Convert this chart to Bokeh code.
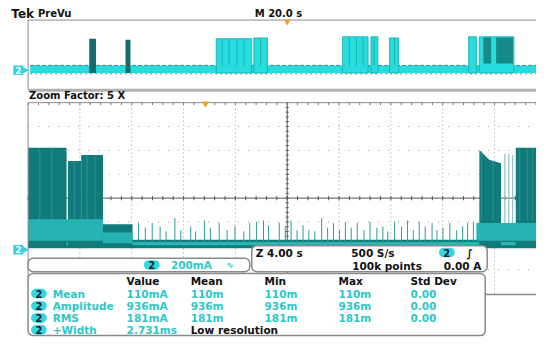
from bokeh.plotting import figure
from bokeh.models import Range1d
from bokeh.embed import file_html
from bokeh.resources import INLINE
from bokeh.core.properties import value

# ---------------- data ----------------
# PreVu overview record (20 s/div), amps
ov_base_t = [-99.2, 99.2]
ov_base_top = 0.20
ov_dark_t0 = [-76.4, -62.4]
ov_dark_t1 = [-73.8, -60.5]
ov_dark_top = [0.90, 0.875]
ov_burst_t0 = [-27.4, -12.9, 21.3, 32.3, 39.5, 70.0, 74.1]
ov_burst_t1 = [-13.7, -7.6, 31.2, 35.0, 43.0, 73.0, 87.5]
ov_burst_top = [0.90, 0.92, 0.95, 0.95, 0.92, 0.95, 0.95]
ov_streak_t = [-25.1, -22.4, -19.4, -16.7, -10.3, 24.0, 26.7, 29.3, 33.5, 41.4]
ov_streak_top = [0.88, 0.90, 0.89, 0.88, 0.90, 0.93, 0.92, 0.94, 0.93, 0.91]
ov_inner_t0 = [75.7, 80.6]
ov_inner_t1 = [78.7, 87.1]
ov_inner_top = [0.93, 0.93]

# Zoomed trace (4 s/div, 200 mA/div), amps
burst_t0 = [-20.0, -16.92, -15.9, 17.64]
burst_t1 = [-17.03, -15.9, -14.22, 19.32]
burst_top = [0.83, 0.72, 0.77, 0.83]
low_t0 = [-14.22, 19.32]
low_t1 = [-11.94, 19.85]
low_top = [0.19, 0.20]
slope_t = [14.83, 15.13, 15.59, 16.5]
slope_top = [0.81, 0.78, 0.73, 0.70]
gap_t = [16.8, 17.1, 17.4]
gap_top = [0.78, 0.78, 0.77]
streak_t = [-19.09, -18.17, -16.43, -15.44, -14.83, 14.98, 15.89, 17.95, 18.56, 18.94]
streak_top = [0.82, 0.83, 0.71, 0.76, 0.76, 0.80, 0.72, 0.83, 0.82, 0.83]
env_t0 = [-20.0, -14.22, 14.6]
env_t1 = [-14.22, -11.94, 19.85]
env_lo = [0.05, 0.03, 0.05]
env_hi = [0.23, 0.12, 0.20]
base_t = [-20.0, 19.85]
spike_t = [-11.48, -10.95, -10.42, -9.81, -9.35, -8.67, -8.21, -7.45, -7.07, -6.39,
           -5.93, -5.25, -4.64, -4.03, -3.35, -2.89, -2.36, -1.83, -1.44,
           -0.61, -0.15, 0.30, 0.76, 1.22, 1.67, 2.13, 2.66, 3.12, 3.57, 4.03,
           4.49, 4.94, 5.40, 5.93, 6.39, 6.92, 7.38, 7.76, 8.29, 8.82, 9.28,
           9.73, 10.19, 10.65, 11.18, 11.56, 12.02, 12.55, 13.08, 13.54, 13.92, 14.37]
spike_top = [0.20, 0.16, 0.20, 0.17, 0.13, 0.24, 0.14, 0.17, 0.13, 0.22,
             0.16, 0.20, 0.14, 0.17, 0.13, 0.20, 0.21, 0.22, 0.18,
             0.20, 0.17, 0.22, 0.14, 0.18, 0.14, 0.13, 0.24, 0.16, 0.20, 0.14,
             0.21, 0.16, 0.20, 0.14, 0.21, 0.16, 0.17, 0.13, 0.21, 0.17, 0.22,
             0.14, 0.21, 0.17, 0.20, 0.14, 0.16, 0.20, 0.14, 0.17, 0.20, 0.21]

# measurement table
col_heads = ["Value", "Mean", "Min", "Max", "Std Dev"]
meas_names = ["Mean", "Amplitude", "RMS", "+Width"]
meas_value = ["110mA", "936mA", "181mA", "2.731ms"]
meas_mean = ["110m", "936m", "181m", ""]
meas_min = ["110m", "936m", "181m", ""]
meas_max = ["110m", "936m", "181m", ""]
meas_std = ["0.00", "0.00", "0.00", ""]
meas_note = "Low resolution"

# ---------------- figure ----------------
CYAN = "#26dcdc"
TEAL = "#117b7b"
TXT_C = "#2cc8c8"
FONT = value("DejaVu Sans")

p = figure(width=536, height=337, x_range=Range1d(0, 544), y_range=Range1d(353, 0),
           output_backend="svg", toolbar_location=None, min_border=0,
           x_axis_type=None, y_axis_type=None)
p.grid.visible = False
p.outline_line_color = None
p.background_fill_color = "white"
p.extra_x_ranges = {"t": Range1d(-22.129, 19.240), "T": Range1d(-110.65, 96.198)}
p.extra_y_ranges = {"A": Range1d(-0.76, 2.064), "O": Range1d(-6.925, 1.9)}
M = dict(x_range_name="t", y_range_name="A")
O = dict(x_range_name="T", y_range_name="O")

# ---- main graticule ----
A_C = 0.408
for k in range(-4, 5):
    if k == 0:
        continue
    p.segment(x0=[4 * k], x1=[4 * k], y0=[A_C - 0.8], y1=[A_C + 0.8],
              line_color="#9a9a9a", line_width=1, line_dash="1 3", **M)
for k in range(-3, 4):
    if k == 0:
        continue
    p.segment(x0=[-20], x1=[20], y0=[A_C + 0.2 * k], y1=[A_C + 0.2 * k],
              line_color="#9a9a9a", line_width=1, line_dash="1 9", **M)
p.segment(x0=[-20], x1=[20], y0=[A_C], y1=[A_C], line_color="#555555", line_width=1, **M)
p.segment(x0=[0], x1=[0], y0=[A_C - 0.8], y1=[A_C + 0.8], line_color="#555555", line_width=1, **M)
tx = [-20 + 0.8 * i for i in range(51)]
p.segment(x0=tx, x1=tx, y0=[A_C - 0.018] * len(tx), y1=[A_C + 0.018] * len(tx),
          line_color="#555555", line_width=1, **M)
p.segment(x0=tx, x1=tx, y0=[A_C + 0.8] * len(tx), y1=[A_C + 0.78] * len(tx),
          line_color="#777777", line_width=1, **M)
ay = [A_C - 0.8 + 0.04 * i for i in range(41)]
p.segment(x0=[-0.12] * len(ay), x1=[0.12] * len(ay), y0=ay, y1=ay,
          line_color="#555555", line_width=1, **M)

# ---- main waveform ----
p.quad(left=base_t[0], right=base_t[1], bottom=-0.012, top=0.06,
       fill_color=TEAL, line_color=None, **M)
p.quad(left=base_t[0], right=base_t[1], bottom=0.012, top=0.04,
       fill_color="#2bb5b5", line_color=None, **M)
p.segment(x0=spike_t, x1=spike_t, y0=[0.03] * len(spike_t), y1=spike_top,
          line_color="#2b9c9c", line_width=1, **M)
p.quad(left=burst_t0, right=burst_t1, bottom=0.0, top=burst_top,
       fill_color=TEAL, line_color=None, **M)
p.quad(left=low_t0, right=low_t1, bottom=0.0, top=low_top,
       fill_color=TEAL, line_color=None, **M)
p.varea(x=slope_t, y1=[0.0] * len(slope_t), y2=slope_top, fill_color=TEAL, **M)
p.segment(x0=streak_t, x1=streak_t, y0=[0.22] * len(streak_t), y1=streak_top,
          line_color="#2a9494", line_width=1, **M)
p.segment(x0=gap_t, x1=gap_t, y0=[0.2] * 3, y1=gap_top, line_color="#8ec4c4", line_width=1.2, **M)
p.quad(left=env_t0, right=env_t1, bottom=env_lo, top=env_hi,
       fill_color="#27b3b3", line_color=None, **M)

# ---- overview waveform ----
p.quad(left=ov_base_t[0], right=ov_base_t[1], bottom=0.0, top=ov_base_top,
       fill_color=CYAN, line_color=None, **O)
p.segment(x0=[ov_base_t[0]], x1=[ov_base_t[1]], y0=[ov_base_top], y1=[ov_base_top],
          line_color="#2a8f8f", line_width=1, line_dash="4 2", **O)
p.segment(x0=[ov_base_t[0]], x1=[ov_base_t[1]], y0=[-0.02], y1=[-0.02],
          line_color="#3a9a9a", line_width=1, line_dash="2 3", **O)
p.quad(left=ov_dark_t0, right=ov_dark_t1, bottom=0.0, top=ov_dark_top,
       fill_color="#136b6b", line_color=None, **O)
p.quad(left=ov_burst_t0, right=ov_burst_t1, bottom=0.0, top=ov_burst_top,
       fill_color=CYAN, line_color="#1aa8a8", line_width=0.8, **O)
p.segment(x0=ov_streak_t, x1=ov_streak_t, y0=[0.2] * len(ov_streak_t), y1=ov_streak_top,
          line_color="#1aa5a5", line_width=0.8, **O)
p.quad(left=ov_inner_t0, right=ov_inner_t1, bottom=0.25, top=ov_inner_top,
       fill_color="#168a8a", line_color=None, **O)

# ---- frames ----
p.segment(x0=[28], x1=[552], y0=[20.5], y1=[20.5], line_color="#8a8a8a", line_width=1)
p.segment(x0=[28], x1=[28], y0=[20.5], y1=[93], line_color="#8a8a8a", line_width=1)
p.segment(x0=[28], x1=[552], y0=[94], y1=[94], line_color="#b0b0b0", line_width=3)
p.segment(x0=[28], x1=[552], y0=[107], y1=[107], line_color="#8a8a8a", line_width=1)
p.segment(x0=[28], x1=[28], y0=[107], y1=[290], line_color="#8a8a8a", line_width=1)
p.segment(x0=[492], x1=[552], y0=[308], y1=[308], line_color="#8a8a8a", line_width=1.5)

# orange markers
p.scatter(x=[291, 208], y=[22, 108], marker="inverted_triangle", size=7,
          fill_color="#f0a020", line_color=None)

# channel ground markers
for yy in (73, 261):
    p.quad(left=[13], right=[23], top=[yy - 5], bottom=[yy + 5], fill_color="#3cd0e0", line_color=None)
    p.scatter(x=[24], y=[yy], marker="triangle", angle=-1.5708, size=8,
              fill_color="#3cd0e0", line_color=None)
    p.text(x=[15], y=[yy], text=["2"], text_color="#e8ffff", text_font=FONT,
           text_font_size="9px", text_font_style="bold", text_baseline="middle")


def txt(x, y, s, color="#111111", size="10.5px", style="bold", align="left"):
    p.text(x=[x], y=[y], text=[s], text_color=color, text_font=FONT,
           text_font_size=size, text_font_style=style, text_align=align,
           text_baseline="middle")


def pill(cx, cy):
    p.quad(left=[cx - 8], right=[cx + 8], top=[cy - 5], bottom=[cy + 5],
           fill_color="#33d8dc", line_color=None, border_radius=5)
    txt(cx, cy + 0.5, "2", color="#10203a", size="10px", align="center")


# header
txt(11, 14, "Tek", size="12px")
txt(38, 14, "PreVu", size="10px")
txt(258, 14, "M 20.0 s", size="10px")
txt(29, 100, "Zoom Factor: 5 X", size="10px")

# panels
p.quad(left=[28], right=[253], top=[270], bottom=[284], fill_color="white",
       line_color="#8a8a8a", line_width=1.5, border_radius=5)
p.quad(left=[255], right=[494], top=[257], bottom=[284], fill_color="white",
       line_color="#8a8a8a", line_width=1.5, border_radius=5)
p.quad(left=[28], right=[492], top=[286], bottom=[351], fill_color="white",
       line_color="#8a8a8a", line_width=1.5, border_radius=5)

pill(153.5, 277)
txt(173, 277.5, "200mA", color=TXT_C)
txt(229, 277.5, "\u223f", color=TXT_C, size="9px")

txt(259, 264, "Z 4.00 s")
txt(356, 264, "500 S/s")
pill(453, 264)
txt(473, 264, "\u222b")
txt(357, 278, "100k points")
txt(488, 278, "0.00 A", align="right")

col_x = [128, 193, 268, 343, 416]
row_y = [307, 320, 332.5, 345]
for cx, h in zip(col_x, col_heads):
    txt(cx, 294, h)
for i, ry in enumerate(row_y):
    pill(39, ry)
    txt(53, ry, meas_names[i], color=TXT_C)
    for cx, col in zip(col_x, [meas_value, meas_mean, meas_min, meas_max, meas_std]):
        if col[i]:
            txt(cx, ry, col[i], color=TXT_C)
txt(col_x[1], row_y[3], meas_note)

open("out.html", "w").write(file_html(p, INLINE))
